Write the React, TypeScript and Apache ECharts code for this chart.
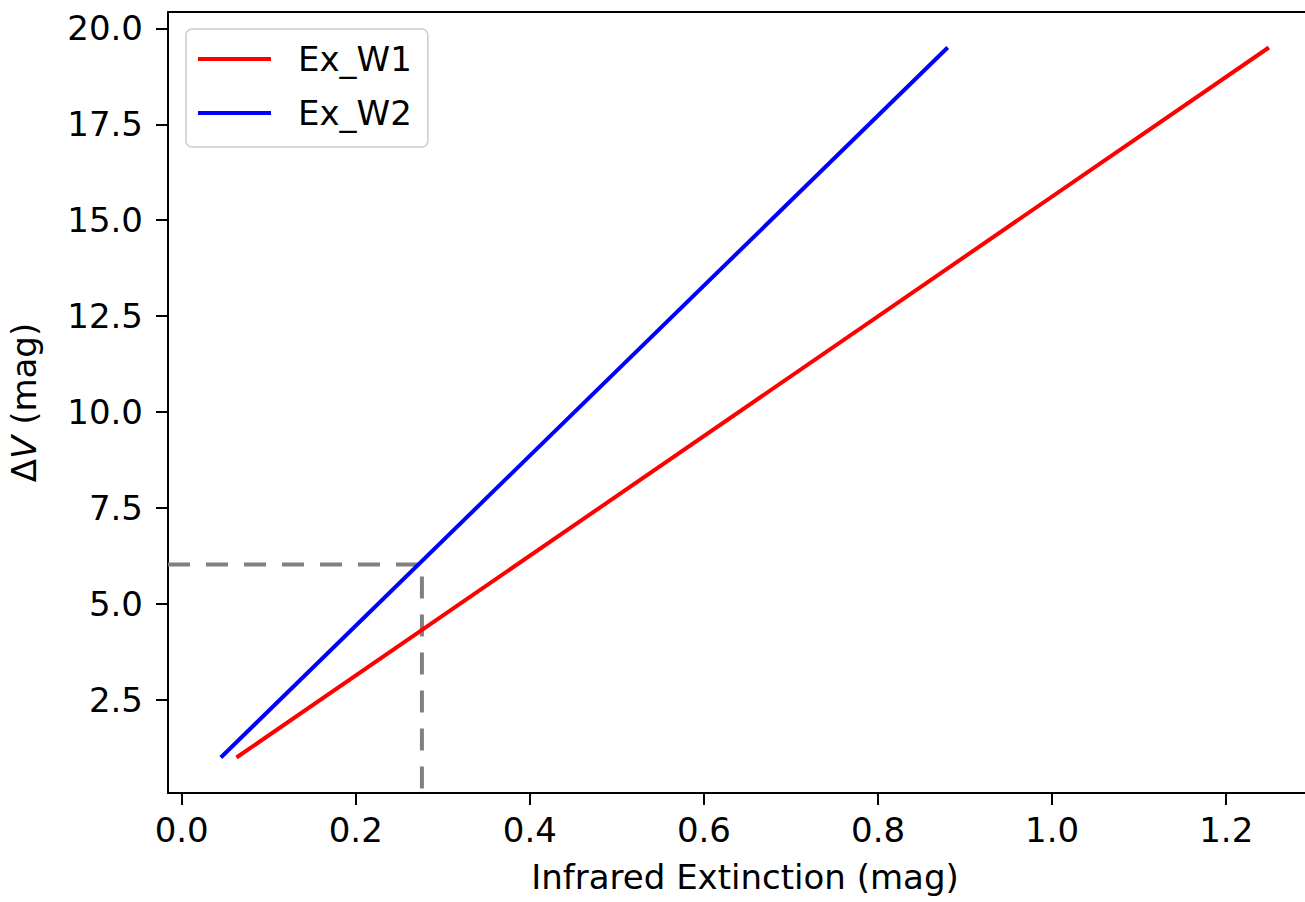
import React, { useEffect, useRef } from "react";
import * as echarts from "echarts";

// Data
const seriesNames = ["Ex_W1", "Ex_W2"];
const w1X = [0.063, 1.249];
const w1Y = [1.0, 19.5];
const w2X = [0.045, 0.88];
const w2Y = [1.0, 19.5];
const guideX = [-0.0157, 0.276, 0.276];
const guideY = [6.03, 6.03, 0.075];
const xTicks = [0.0, 0.2, 0.4, 0.6, 0.8, 1.0, 1.2];
const yTicks = [2.5, 5.0, 7.5, 10.0, 12.5, 15.0, 17.5, 20.0];
const xRange = [-0.0157, 1.31];
const yRange = [0.075, 20.425];

const FONT = "DejaVu Sans";
const FS = 34;

export default function App() {
  const ref = useRef<HTMLDivElement>(null);
  useEffect(() => {
    if (!ref.current) return;
    document.body.style.margin = "0";
    const chart = echarts.init(ref.current, null, { renderer: "svg" });
    const pair = (xs: number[], ys: number[]) => xs.map((x, i) => [x, ys[i]]);
    chart.setOption({
      animation: false,
      backgroundColor: "#ffffff",
      grid: {
        left: 168,
        top: 12,
        width: 1154,
        height: 781,
        show: false,
        containLabel: false,
        outerBoundsMode: "none",
      },
      graphic: [
        {
          type: "rect",
          left: 1294,
          top: 15,
          shape: { width: 11, height: 776 },
          style: { fill: "#ffffff" },
          z: 100,
          silent: true,
        },
      ],
      legend: {
        orient: "vertical",
        left: 186,
        top: 29,
        data: seriesNames,
        icon: "rect",
        itemWidth: 73,
        itemHeight: 4,
        itemGap: 18,
        padding: [12, 16, 16, 12],
        backgroundColor: "rgba(255,255,255,0.8)",
        borderColor: "#cccccc",
        borderWidth: 1.5,
        borderRadius: 6,
        textStyle: {
          fontFamily: FONT,
          fontSize: FS,
          color: "#000",
          lineHeight: 36,
          padding: [0, 0, 0, 22],
        },
      },
      xAxis: [
        {
          type: "value",
          min: xRange[0],
          max: xRange[1],
          name: "Infrared Extinction (mag)",
          nameLocation: "middle",
          nameGap: 67,
          nameTextStyle: { fontFamily: FONT, fontSize: FS, color: "#000" },
          splitLine: { show: false },
          axisLine: { show: true, onZero: false, lineStyle: { color: "#000", width: 2 } },
          axisTick: {
            show: true,
            inside: false,
            length: 12,
            lineStyle: { color: "#000", width: 2 },
            customValues: xTicks,
          },
          axisLabel: {
            fontFamily: FONT,
            fontSize: FS,
            color: "#000",
            margin: 20,
            customValues: xTicks,
            formatter: (v: number) => v.toFixed(1),
          },
        },
        {
          type: "value",
          position: "top",
          min: xRange[0],
          max: xRange[1],
          splitLine: { show: false },
          axisLine: { show: true, onZero: false, lineStyle: { color: "#000", width: 2 } },
          axisTick: { show: false },
          axisLabel: { show: false },
        },
      ],
      yAxis: {
        type: "value",
        min: yRange[0],
        max: yRange[1],
        name: "{d|Δ}{i|V}{d| (mag)}",
        nameLocation: "middle",
        nameGap: 127,
        nameRotate: 90,
        nameTextStyle: {
          fontFamily: FONT,
          fontSize: FS,
          color: "#000",
          rich: {
            d: { fontFamily: FONT, fontSize: FS, color: "#000" },
            i: { fontFamily: FONT, fontSize: FS, color: "#000", fontStyle: "italic" },
          },
        },
        splitLine: { show: false },
        axisLine: { show: true, onZero: false, lineStyle: { color: "#000", width: 2 } },
        axisTick: {
          show: true,
          inside: false,
          length: 12,
          lineStyle: { color: "#000", width: 2 },
          customValues: yTicks,
        },
        axisLabel: {
          fontFamily: FONT,
          fontSize: FS,
          color: "#000",
          margin: 25,
          customValues: yTicks,
          formatter: (v: number) => v.toFixed(1),
        },
      },
      series: [
        {
          name: seriesNames[0],
          type: "line",
          data: pair(w1X, w1Y),
          showSymbol: false,
          symbol: "none",
          color: "#ff0000",
          lineStyle: { color: "#ff0000", width: 4 },
          z: 3,
        },
        {
          name: seriesNames[1],
          type: "line",
          data: pair(w2X, w2Y),
          showSymbol: false,
          symbol: "none",
          color: "#0000ff",
          lineStyle: { color: "#0000ff", width: 4 },
          z: 3,
        },
        {
          name: "guide",
          type: "line",
          data: pair(guideX, guideY),
          showSymbol: false,
          symbol: "none",
          lineStyle: { color: "#808080", width: 4, type: [22, 16] },
          z: 2,
        },
      ],
    });
    return () => chart.dispose();
  }, []);
  return (
    <div
      ref={ref}
      style={{ position: "fixed", left: 0, top: 0, width: 1305, height: 902, background: "#fff" }}
    />
  );
}
